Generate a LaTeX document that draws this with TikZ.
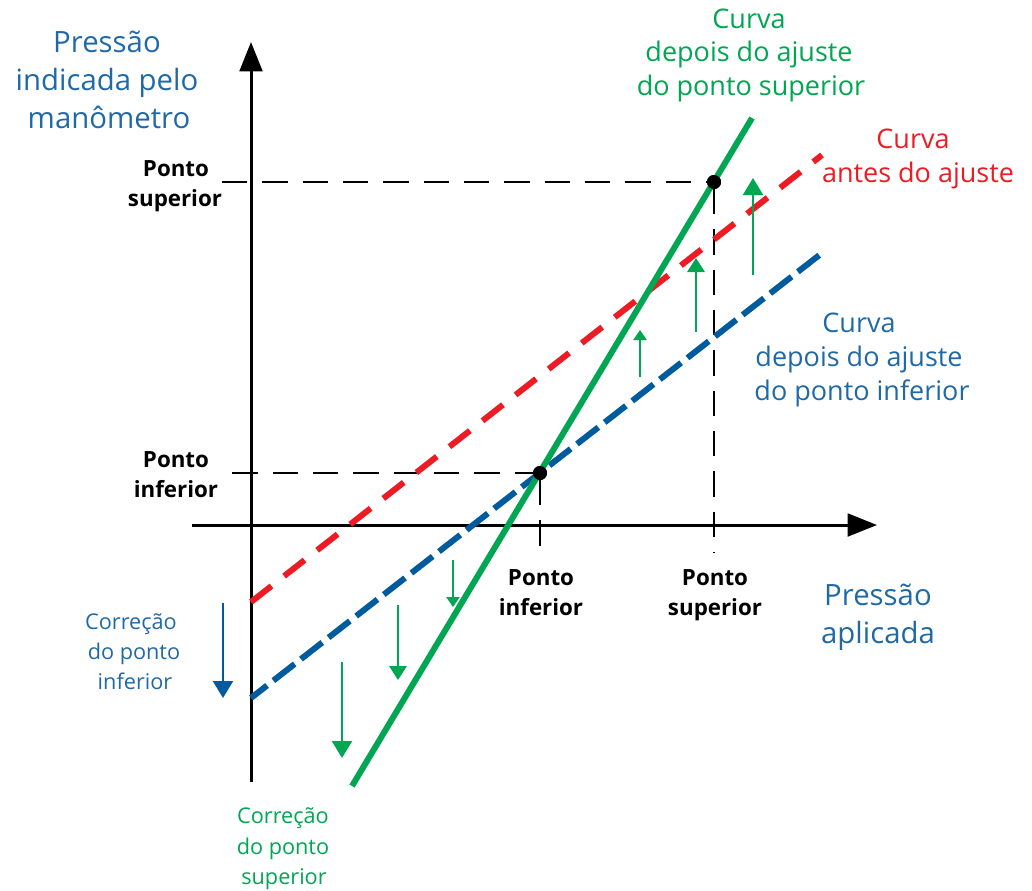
\documentclass[tikz,border=0pt]{standalone}
\usepackage{fontspec}
\setmainfont{Open Sans}
\usetikzlibrary{arrows.meta}
\definecolor{cgreen}{HTML}{00A651}
\definecolor{cred}{HTML}{ED1C24}
\definecolor{cblue}{HTML}{005A9E}
\definecolor{ctblue}{HTML}{1F69A6}
\begin{document}
\begin{tikzpicture}[x=0.75pt,y=-0.75pt,
  axis/.style={line width=2.25pt,-{Triangle[length=22pt,width=17pt]}},
  guide/.style={line width=0.9pt,dash pattern=on 19pt off 11.25pt},
  redline/.style={cred,line width=4.5pt,dash pattern=on 19.5pt off 12pt},
  blueline/.style={cblue,line width=4.5pt,dash pattern=on 20.25pt off 6pt,dash phase=5pt},
  greenline/.style={cgreen,line width=4.5pt},
  dot/.style={circle,fill=black,inner sep=0pt,minimum size=10.5pt},
  bigarr/.style={line width=1.5pt,-{Triangle[length=12.75pt,width=15pt]}},
  midarr/.style={line width=1.5pt,-{Triangle[length=10.5pt,width=13pt]}},
  smallarr/.style={line width=0.9pt,-{Triangle[length=7.5pt,width=10pt]}},
  axlbl/.style={text=ctblue,font=\fontsize{22}{26}\selectfont,anchor=base,inner sep=0pt},
  cvlbl/.style={font=\fontsize{20.25}{24}\selectfont,anchor=base,inner sep=0pt},
  smlbl/.style={font=\fontsize{16.25}{19}\selectfont,anchor=base,inner sep=0pt},
  ptlbl/.style={font=\bfseries\fontsize{16.75}{20}\selectfont,anchor=base,inner sep=0pt}
]
\useasboundingbox (0,0) rectangle (1032,890);

% axes
\coordinate (ybot) at (251,782);
\coordinate (ytop) at (251,42);
\coordinate (xleft) at (192,525);
\coordinate (xright) at (877,525);
\draw[axis] (ybot) -- (ytop);
\draw[axis] (xleft) -- (xright);

% key points
\node[dot] (psup) at (714,182) {};
\node[dot] (pinf) at (540,473) {};

% guide lines
\coordinate (gsupL) at (222,182);
\coordinate (ginfL) at (231,473);
\coordinate (gsupB) at (714,553);
\coordinate (ginfB) at (540,547);
\draw[guide] (gsupL) -- (psup.center);
\draw[guide] (pinf.center) -- (ginfL);
\draw[guide] (540,480) -- (ginfB);
\draw[guide] (714,189) -- (gsupB);

% curves
\coordinate (r0) at (251,602);
\coordinate (r1) at (822,155);
\coordinate (b0) at (251,698);
\coordinate (b1) at (822,253);
\coordinate (g0) at (352,786);
\coordinate (g1) at (752,118);
\draw[redline] (r0) -- (r1);
\draw[blueline] (b0) -- (b1);
\draw[greenline] (g0) -- (g1);
\node[dot] at (psup.center) {};
\node[dot] at (pinf.center) {};

% correction arrows
\coordinate (a1s) at (223,603); \coordinate (a1e) at (223,698);
\draw[bigarr,cblue] (a1s) -- (a1e);
\coordinate (a2s) at (342,662); \coordinate (a2e) at (342,758);
\draw[bigarr,cgreen] (a2s) -- (a2e);
\coordinate (a3s) at (398,605); \coordinate (a3e) at (398,680);
\draw[midarr,cgreen] (a3s) -- (a3e);
\coordinate (a4s) at (453,560); \coordinate (a4e) at (453,607);
\draw[smallarr,cgreen] (a4s) -- (a4e);
\coordinate (a5s) at (640,377); \coordinate (a5e) at (640,330);
\draw[smallarr,cgreen] (a5s) -- (a5e);
\coordinate (a6s) at (696,332); \coordinate (a6e) at (696,258);
\draw[midarr,cgreen] (a6s) -- (a6e);
\coordinate (a7s) at (753,275); \coordinate (a7e) at (753,178);
\draw[bigarr,cgreen] (a7s) -- (a7e);

% labels
\node[axlbl] (yl1) at (107,52) {Pressão};
\node[axlbl] (yl2) at (107,90) {indicada pelo};
\node[axlbl] (yl3) at (109,128) {manômetro};

\node[axlbl] (xl1) at (878,605) {Pressão};
\node[axlbl] (xl2) at (878,643) {aplicada};

\node[cvlbl,text=cgreen] (gl1) at (749,28) {Curva};
\node[cvlbl,text=cgreen] (gl2) at (749,61.5) {depois do ajuste};
\node[cvlbl,text=cgreen] (gl3) at (751,95) {do ponto superior};

\node[cvlbl,text=cred] (rl1) at (913,148) {Curva};
\node[cvlbl,text=cred] (rl2) at (918,182) {antes do ajuste};

\node[cvlbl,text=ctblue] (bl1) at (859,332) {Curva};
\node[cvlbl,text=ctblue] (bl2) at (859,366) {depois do ajuste};
\node[cvlbl,text=ctblue] (bl3) at (862,400) {do ponto inferior};

\node[smlbl,text=ctblue] (ci1) at (131,629) {Correção};
\node[smlbl,text=ctblue] (ci2) at (134,659) {do ponto};
\node[smlbl,text=ctblue] (ci3) at (135,689) {inferior};

\node[smlbl,text=cgreen] (cs1) at (283,823) {Correção};
\node[smlbl,text=cgreen] (cs2) at (283,854) {do ponto};
\node[smlbl,text=cgreen] (cs3) at (284,884) {superior};

\node[ptlbl] (ls1) at (176,176) {Ponto};
\node[ptlbl] (ls2) at (175,206) {superior};
\node[ptlbl] (li1) at (176,467) {Ponto};
\node[ptlbl] (li2) at (176,497) {inferior};
\node[ptlbl] (bi1) at (541,585) {Ponto};
\node[ptlbl] (bi2) at (541,615) {inferior};
\node[ptlbl] (bs1) at (715,585) {Ponto};
\node[ptlbl] (bs2) at (715,615) {superior};
\end{tikzpicture}
\end{document}
